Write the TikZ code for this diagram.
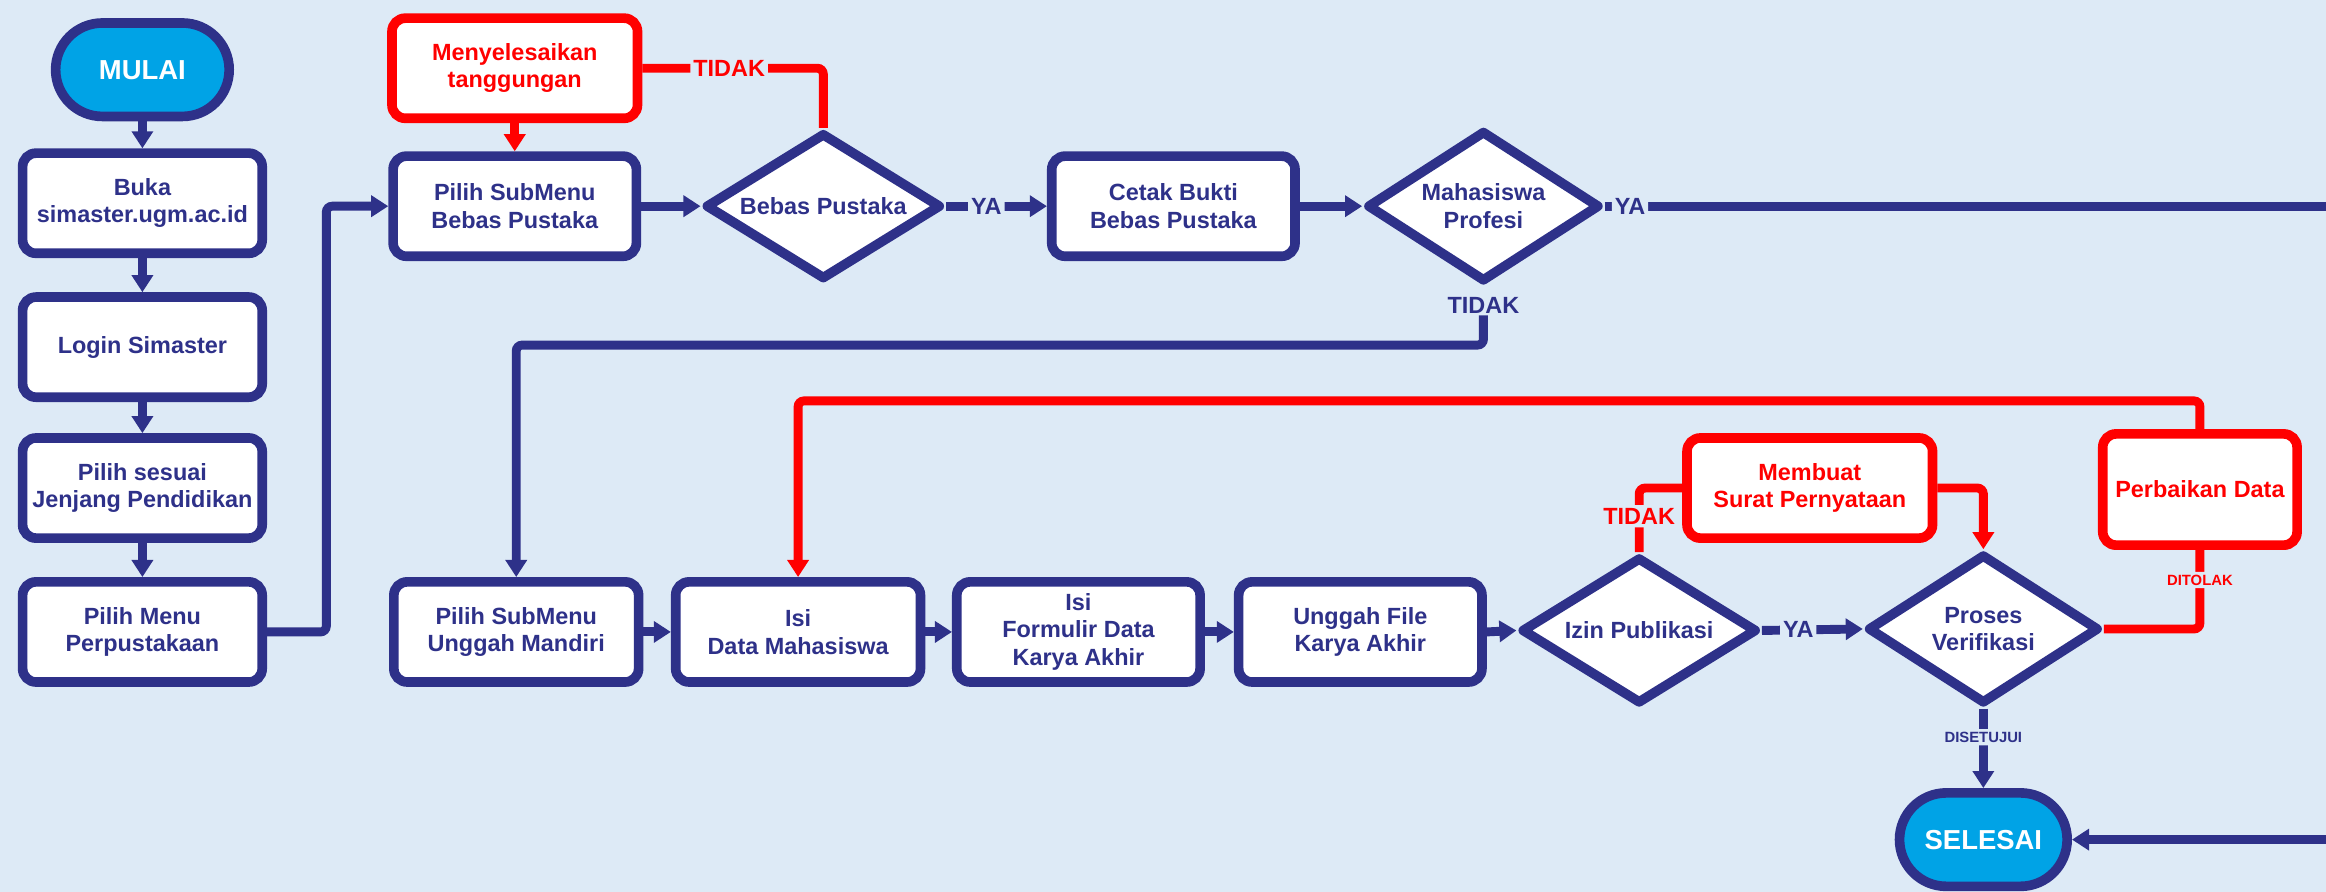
\documentclass[tikz,border=0pt]{standalone}
\usepackage{fontspec}
\setmainfont{Liberation Sans}
\usetikzlibrary{shapes.geometric,shapes.misc,arrows.meta}
\definecolor{bg}{HTML}{DDEAF6}
\definecolor{dblue}{HTML}{2E3189}
\definecolor{cyanf}{HTML}{00A3E6}
\definecolor{rd}{HTML}{FF0000}
\begin{document}
\begin{tikzpicture}[x=1pt,y=-1pt,
  txt/.style={font=\bfseries\fontsize{15.8}{18.5}\selectfont},
  proc/.style={txt, draw=dblue, text=dblue, line width=6.5pt, fill=white,
    rounded corners=9pt, minimum width=#1, minimum height=67.5pt,
    align=center, inner sep=2pt},
  proc/.default=161.5pt,
  redproc/.style={proc=#1, draw=rd, text=rd},
  redproc/.default=165.5pt,
  dec/.style={txt, diamond, aspect=1.6, draw=dblue, text=dblue, line width=6.5pt,
    fill=white, line join=round, inner sep=0pt, align=center},
  term/.style={rounded rectangle, draw=dblue, fill=cyanf, text=white,
    line width=6.5pt, font=\bfseries\fontsize{18.5}{20}\selectfont,
    minimum height=63pt, inner sep=2pt},
  conn/.style={draw=dblue, line width=6pt, rounded corners=4pt,
    -{Triangle[width=14pt,length=11.5pt]}},
  plainb/.style={draw=dblue, line width=6pt, rounded corners=4pt},
  redconn/.style={conn, draw=rd},
  redline/.style={plainb, draw=rd},
  lblb/.style={txt, text=dblue, fill=bg, inner sep=2pt},
  lblr/.style={txt, text=rd, fill=bg, inner sep=2pt},
  lbls/.style={font=\bfseries\fontsize{10}{12}\selectfont, fill=bg, inner sep=2pt}
]
\fill[bg] (0,0) rectangle (1568,601);
\useasboundingbox (0,0) rectangle (1568,601);

% left column
\node[term, minimum width=121pt] (start) at (96,47) {MULAI};
\node[proc] (b1) at (96,137) {Buka\\simaster.ugm.ac.id};
\node[proc] (b2) at (96,234) {Login Simaster};
\node[proc] (b3) at (96,329) {Pilih sesuai\\Jenjang Pendidikan};
\node[proc] (b4) at (96,426) {Pilih Menu\\Perpustakaan};

% top row
\node[redproc] (m1) at (347,46) {Menyelesaikan\\tanggungan};
\node[proc=164pt] (p1) at (347,139) {Pilih SubMenu\\Bebas Pustaka};
\node[dec, minimum width=159pt, minimum height=99pt] (d1) at (555,139) {Bebas Pustaka};
\node[proc=164pt] (c1) at (791,139) {Cetak Bukti\\Bebas Pustaka};
\node[dec, minimum width=157pt, minimum height=102pt] (d2) at (1000,139) {Mahasiswa\\Profesi};
\node[lblb, inner sep=1pt] (t2) at (1000,206) {TIDAK};

% bottom row
\node[proc=165pt] (r1) at (348,426) {Pilih SubMenu\\Unggah Mandiri};
\node[proc=165pt] (r2) at (538,426) {Isi\\Data Mahasiswa};
\node[proc=164pt] (r3) at (727,426) {Isi\\Formulir Data\\Karya Akhir};
\node[proc=164pt] (r4) at (917,426) {Unggah File\\Karya Akhir};
\node[dec, minimum width=159pt, minimum height=99pt] (d3) at (1105,425) {Izin Publikasi};
\node[dec, minimum width=156pt, minimum height=101pt] (d4) at (1337,424) {Proses\\Verifikasi};
\node[redproc] (m2) at (1220,329) {Membuat\\Surat Pernyataan};
\node[redproc=131pt, minimum height=75pt] (m3) at (1483,330) {Perbaikan Data};
\node[term, minimum width=117pt] (end) at (1337,566) {SELESAI};

\coordinate (eR1) at (1568,139);
\coordinate (eR2) at (1568,566);

% connectors
\draw[conn] (start.south) -- (b1.north);
\draw[conn] (b1.south) -- (b2.north);
\draw[conn] (b2.south) -- (b3.north);
\draw[conn] (b3.south) -- (b4.north);
\draw[conn] (b4.east) -- ++(40,0) |- (p1.west);
\draw[redconn] (m1.south) -- (p1.north);
\draw[conn] (p1.east) -- (d1.west);
\draw[redline] (d1.north) |- node[lblr, pos=0.76] {TIDAK} (m1.east);
\draw[conn] (d1.east) -- node[lblb, pos=0.4] {YA} (c1.west);
\draw[conn] (c1.east) -- (d2.west);
\draw[plainb] (d2.east) -- node[lblb, pos=0.035] {YA} (eR1);
\draw[conn] (t2.south) -- ++(0,20) -| (r1.north);

\draw[conn] (r1.east) -- (r2.west);
\draw[conn] (r2.east) -- (r3.west);
\draw[conn] (r3.east) -- (r4.west);
\draw[conn] (r4.east) -- (d3.west);
\draw[conn] (d3.east) -- node[lblb, pos=0.36] {YA} (d4.west);
\draw[redline] (d3.north) |- node[lblr, pos=0.28] {TIDAK} (m2.west);
\draw[redconn] (m2.east) -| (d4.north);
\draw[redline] (d4.east) -| node[lbls, text=rd, pos=0.81] {DITOLAK} (m3.south);
\draw[redconn] (m3.north) -- ++(0,-19) -| (r2.north);
\draw[conn] (d4.south) -- node[lbls, text=dblue, pos=0.36] {DISETUJUI} (end.north);
\draw[conn] (eR2) -- (end.east);
\end{tikzpicture}
\end{document}
